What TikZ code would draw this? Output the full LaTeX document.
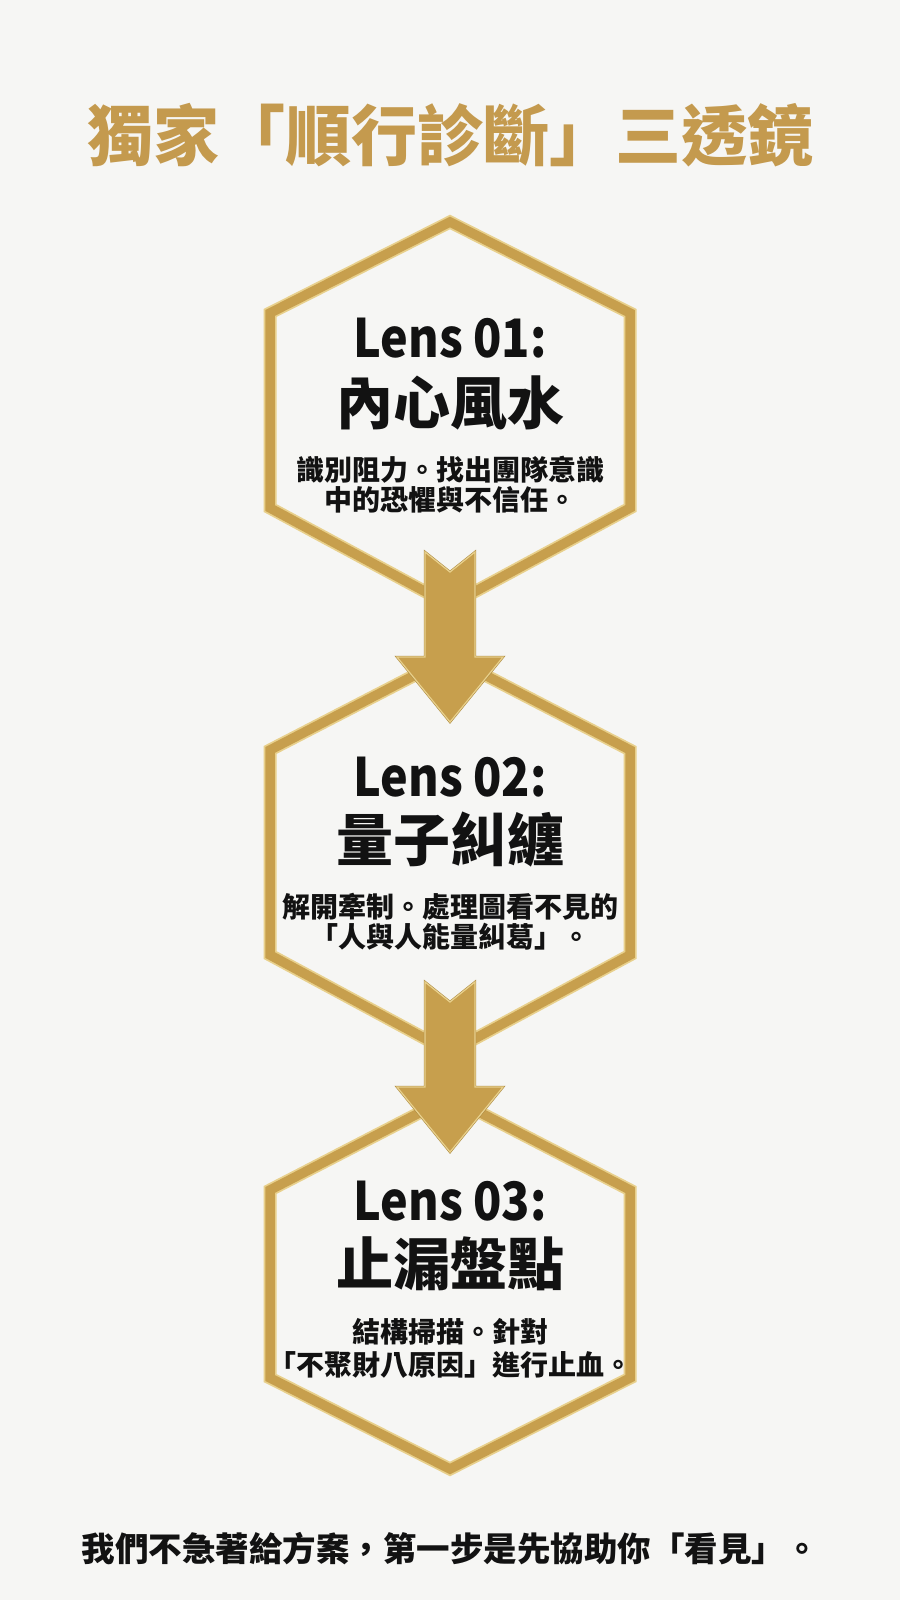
\documentclass[tikz,border=0pt]{standalone}
\usepackage{fontspec}
\newfontfamily\cjk{Noto Sans CJK TC}
\definecolor{bg}{HTML}{F6F6F4}
\definecolor{gold}{HTML}{C79F4D}
\definecolor{goldlight}{HTML}{E8D08C}
\definecolor{golddark}{HTML}{B08E44}
\definecolor{titlegold}{HTML}{C49A4E}
\definecolor{ink}{HTML}{121212}
\newcommand{\lensname}[1]{\scalebox{0.88}[1]{#1}}
\tikzset{
  hexouter/.style={draw=goldlight, line width=13pt, line join=miter},
  hexinner/.style={draw=gold, line width=9.5pt, line join=miter},
  arrowedge/.style={draw=golddark, line width=2.4pt, line join=miter},
  arrowbody/.style={fill=gold, draw=goldlight, line width=1.2pt, line join=miter},
  lenslabel/.style={inner sep=0pt, text=ink, font=\cjk\bfseries\fontsize{53}{58}\selectfont},
  lenstitle/.style={inner sep=0pt, text=ink, font=\cjk\bfseries\fontsize{57}{62}\selectfont},
  lensdesc/.style={inner sep=0pt, text=ink, font=\cjk\bfseries\fontsize{28}{30}\selectfont},
}
\begin{document}
\begin{tikzpicture}[x=1pt,y=-1pt]
\useasboundingbox (0,0) rectangle (900,1600);
\fill[bg] (0,0) rectangle (900,1600);

% title
\node[inner sep=0pt, text=titlegold, font=\cjk\bfseries\fontsize{66}{70}\selectfont] (title) at (450,135) {獨家「順行診斷」三透鏡};

% hexagons
\foreach \st in {hexouter,hexinner}{
  \draw[\st] (450,222) -- (630,313) -- (630,508) -- (450,605) -- (270,508) -- (270,313) -- cycle;
  \draw[\st] (450,657) -- (630,750) -- (630,955) -- (450,1052) -- (270,955) -- (270,750) -- cycle;
  \draw[\st] (450,1097) -- (630,1190) -- (630,1378) -- (450,1469) -- (270,1378) -- (270,1190) -- cycle;
}

% arrows
\coordinate (a1) at (450,552);
\coordinate (a2) at (450,982);
\foreach \a in {a1,a2}{
  \foreach \st in {arrowedge,arrowbody}{
    \draw[\st, shift={(\a)}] (-25,0) -- (0,20) -- (25,0) -- (25,105) -- (53,105) -- (0,170) -- (-53,105) -- (-25,105) -- cycle;
  }
}

% lens 1
\node[lenslabel] (l1) at (450,338) {\lensname{Lens 01:}};
\node[lenstitle] (t1) at (450,403) {內心風水};
\node[lensdesc] (d1a) at (450,470) {識別阻力。找出團隊意識};
\node[lensdesc] (d1b) at (450,500) {中的恐懼與不信任。};

% lens 2
\node[lenslabel] (l2) at (450,777) {\lensname{Lens 02:}};
\node[lenstitle] (t2) at (450,840) {量子糾纏};
\node[lensdesc] (d2a) at (450,907) {解開牽制。處理圖看不見的};
\node[lensdesc] (d2b) at (450,937) {「人與人能量糾葛」。};

% lens 3
\node[lenslabel] (l3) at (450,1201) {\lensname{Lens 03:}};
\node[lenstitle] (t3) at (450,1264) {止漏盤點};
\node[lensdesc] (d3a) at (450,1332) {結構掃描。針對};
\node[lensdesc] (d3b) at (450,1365) {「不聚財八原因」進行止血。};

% bottom line
\node[inner sep=0pt, text=ink, font=\cjk\bfseries\fontsize{33.5}{36}\selectfont] (foot) at (450,1549) {我們不急著給方案，第一步是先協助你「看見」。};
\end{tikzpicture}
\end{document}
